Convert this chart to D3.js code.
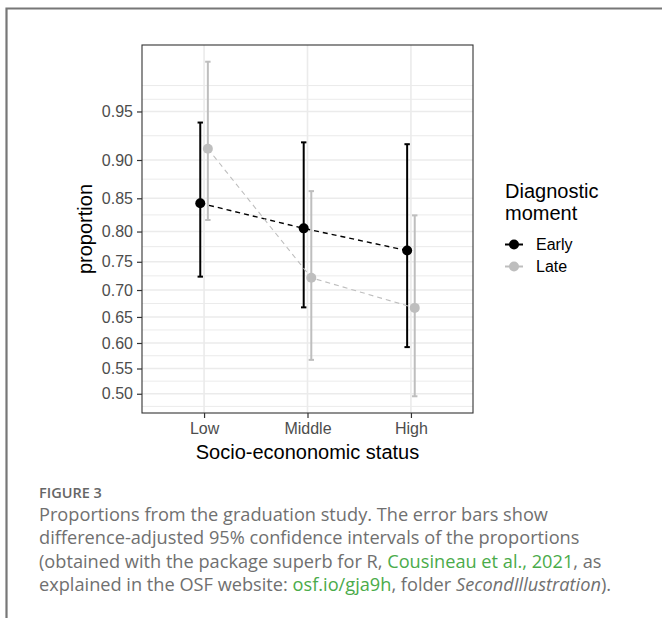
<!DOCTYPE html>
<html>
<head>
<meta charset="utf-8">
<script src="https://cdn.jsdelivr.net/npm/d3@7"></script>
<style>
  body { margin: 0; background: #fff; }
  svg { display: block; }
</style>
</head>
<body>
<div id="chart"></div>
<script>
// data (proportions and difference-adjusted 95% CIs)
const categories = ["Low", "Middle", "High"];
const groups = ["Early", "Late"];
const earlyMean = [0.843, 0.805, 0.769];
const earlyLow  = [0.724, 0.668, 0.592];
const earlyHigh = [0.940, 0.920, 0.918];
const lateMean  = [0.913, 0.722, 0.667];
const lateLow   = [0.818, 0.567, 0.495];
const lateHigh  = [0.984, 0.860, 0.825];
const yTicks = [0.50, 0.55, 0.60, 0.65, 0.70, 0.75, 0.80, 0.85, 0.90, 0.95];
const yExtraMinor = [0.96, 0.97];

const groupColor = { Early: "#000000", Late: "#bebebe" };

const W = 662, H = 618;
const panel = { left: 142, right: 473, top: 45, bottom: 413 };

const svg = d3.select("#chart").append("svg")
    .attr("width", W).attr("height", H)
    .style("font-family", "'Liberation Sans', Arial, sans-serif");

// frame of the figure box (top + left edges)
svg.append("path")
    .attr("d", `M6.5,${H} L6.5,8.5 L${W},8.5`)
    .attr("fill", "none").attr("stroke", "#777").attr("stroke-width", 2.2);

// build rows
const rows = [];
categories.forEach((c, i) => {
    rows.push({ group: "Early", cat: c, mean: earlyMean[i], lo: earlyLow[i], hi: earlyHigh[i] });
    rows.push({ group: "Late", cat: c, mean: lateMean[i], lo: lateLow[i], hi: lateHigh[i] });
});

// arcsine square-root scale (as in superb for proportions)
const asr = p => Math.asin(Math.sqrt(p));
const tExt = d3.extent(rows.flatMap(d => [asr(d.lo), asr(d.hi)]));
const pad = (tExt[1] - tExt[0]) * 0.05;
const yT = d3.scaleLinear().domain([tExt[0] - pad, tExt[1] + pad]).range([panel.bottom, panel.top]);
const y = p => yT(asr(p));

const x = d3.scalePoint().domain(categories).range([panel.left, panel.right]).padding(0.6);
const dodge = d3.scalePoint().domain(groups).range([-3.8, 3.8]);
const xp = d => x(d.cat) + dodge(d.group);

// minor gridlines: midpoints in transformed space
const tTicks = yTicks.map(asr);
const minorT = [tTicks[0] - (asr(0.50) - asr(0.45)) / 2];
for (let i = 0; i < tTicks.length - 1; i++) minorT.push((tTicks[i] + tTicks[i + 1]) / 2);
yExtraMinor.forEach(v => minorT.push(asr(v)));

const grid = svg.append("g");
grid.selectAll(".minor").data(minorT).enter().append("line")
    .attr("x1", panel.left).attr("x2", panel.right)
    .attr("y1", d => yT(d)).attr("y2", d => yT(d))
    .attr("stroke", "#ebebeb").attr("stroke-width", 1);
grid.selectAll(".major").data(tTicks).enter().append("line")
    .attr("x1", panel.left).attr("x2", panel.right)
    .attr("y1", d => yT(d)).attr("y2", d => yT(d))
    .attr("stroke", "#ebebeb").attr("stroke-width", 1.6);
grid.selectAll(".vmajor").data(categories).enter().append("line")
    .attr("x1", d => x(d)).attr("x2", d => x(d))
    .attr("y1", panel.top).attr("y2", panel.bottom)
    .attr("stroke", "#ebebeb").attr("stroke-width", 1.6);

// axes
const yAxis = svg.append("g")
    .attr("transform", `translate(${panel.left},0)`)
    .call(d3.axisLeft(yT).tickValues(tTicks).tickSize(5).tickPadding(4)
        .tickFormat(v => d3.format(".2f")(Math.sin(v) ** 2)));
const xAxis = svg.append("g")
    .attr("transform", `translate(0,${panel.bottom})`)
    .call(d3.axisBottom(x).tickSize(5).tickPadding(5));
[yAxis, xAxis].forEach(a => {
    a.select(".domain").remove();
    a.selectAll(".tick line").attr("stroke", "#333").attr("stroke-width", 1.2);
    a.selectAll(".tick text").attr("fill", "#4d4d4d").style("font-size", "16px")
        .style("font-family", "'Liberation Sans', Arial, sans-serif");
});

// error bars
const eb = svg.append("g");
rows.forEach(d => {
    const g = eb.append("g").attr("stroke", groupColor[d.group]).attr("stroke-width", 2);
    g.append("line").attr("x1", xp(d)).attr("x2", xp(d)).attr("y1", y(d.lo)).attr("y2", y(d.hi));
    g.append("line").attr("x1", xp(d) - 2.7).attr("x2", xp(d) + 2.7).attr("y1", y(d.lo)).attr("y2", y(d.lo));
    g.append("line").attr("x1", xp(d) - 2.7).attr("x2", xp(d) + 2.7).attr("y1", y(d.hi)).attr("y2", y(d.hi));
});

// dashed connecting lines
const line = d3.line().x(d => xp(d)).y(d => y(d.mean));
groups.forEach(gname => {
    svg.append("path")
        .datum(rows.filter(d => d.group === gname))
        .attr("d", line)
        .attr("fill", "none")
        .attr("stroke", groupColor[gname])
        .attr("stroke-width", gname === "Early" ? 1.4 : 1.1)
        .attr("stroke-dasharray", "5,4");
});

// points
svg.append("g").selectAll("circle").data(rows).enter().append("circle")
    .attr("cx", d => xp(d)).attr("cy", d => y(d.mean)).attr("r", 5)
    .attr("fill", d => groupColor[d.group]);

// panel border
svg.append("rect")
    .attr("x", panel.left).attr("y", panel.top)
    .attr("width", panel.right - panel.left).attr("height", panel.bottom - panel.top)
    .attr("fill", "none").attr("stroke", "#333").attr("stroke-width", 1.1);

// axis titles
svg.append("text")
    .attr("x", (panel.left + panel.right) / 2).attr("y", 459)
    .attr("text-anchor", "middle").style("font-size", "20px")
    .text("Socio-econonomic status");
svg.append("text")
    .attr("transform", `translate(92,${(panel.top + panel.bottom) / 2}) rotate(-90)`)
    .attr("text-anchor", "middle").style("font-size", "20px")
    .text("proportion");

// legend
const legend = svg.append("g");
legend.append("text").attr("x", 505).attr("y", 198).style("font-size", "20px").text("Diagnostic");
legend.append("text").attr("x", 505).attr("y", 220).style("font-size", "20px").text("moment");
groups.forEach((gname, i) => {
    const ly = 244.5 + i * 22;
    legend.append("line").attr("x1", 505).attr("x2", 523).attr("y1", ly).attr("y2", ly)
        .attr("stroke", groupColor[gname]).attr("stroke-width", 2);
    legend.append("circle").attr("cx", 514).attr("cy", ly).attr("r", 5).attr("fill", groupColor[gname]);
    legend.append("text").attr("x", 536).attr("y", ly + 5.7).style("font-size", "16px").text(gname);
});

// caption
const cap = svg.append("g").style("font-family", "'Open Sans', sans-serif").attr("fill", "#707070");
cap.append("text").attr("x", 39).attr("y", 497.5).style("font-size", "14.5px").style("font-weight", 600)
    .attr("fill", "#666").text("FIGURE 3");
const captionLines = [
    [["Proportions from the graduation study. The error bars show"]],
    [["difference-adjusted 95% confidence intervals of the proportions"]],
    [["(obtained with the package superb for R, "], ["Cousineau et al., 2021", "link"], [", as"]],
    [["explained in the OSF website: "], ["osf.io/gja9h", "link"], [", folder "], ["SecondIllustration", "it"], [")."]]
];
captionLines.forEach((parts, i) => {
    const t = cap.append("text").attr("x", 39).attr("y", 521 + i * 23.4).style("font-size", "18.2px");
    parts.forEach(([s, kind]) => {
        const ts = t.append("tspan").text(s);
        if (kind === "link") ts.attr("fill", "#4aab4a");
        if (kind === "it") ts.style("font-style", "italic");
    });
});
</script>
</body>
</html>
